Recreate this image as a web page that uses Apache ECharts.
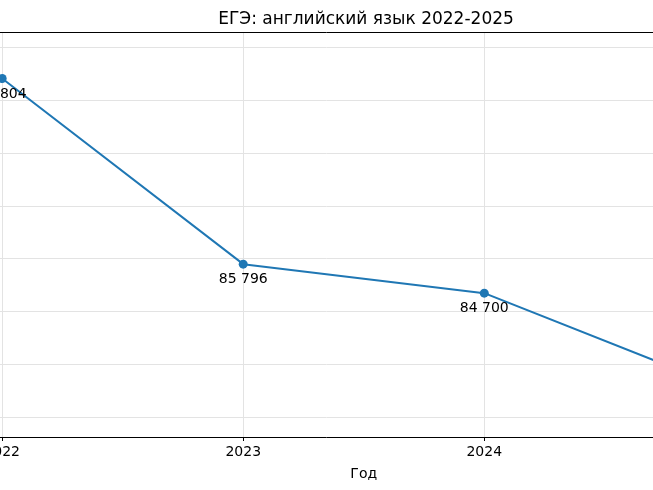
<!DOCTYPE html>
<html>
<head>
<meta charset="utf-8">
<script src="https://cdn.jsdelivr.net/npm/echarts@6/dist/echarts.min.js"></script>
<style>
  html, body { margin: 0; padding: 0; background: #fff; }
  #chart { width: 653px; height: 490px; }
</style>
</head>
<body>
<div id="chart"></div>
<script>
// данные графика
var years = [2022, 2023, 2024, 2025];
var participants = [92804, 85796, 84700, 81100];

// пределы осей (как в исходной картинке, с полями)
var x_range = [2021.85, 2025.15];
var y_range = [79270, 94560];

// формат числа с пробелом между разрядами
function fmt_num(v) {
    return String(v).replace(/\B(?=(\d{3})+(?!\d))/g, ' ');
}

var points = [];
for (var i in years) {
    points.push([years[i], participants[i]]);
}

var chart = echarts.init(document.getElementById('chart'));
var option = {
    animation: false,
    backgroundColor: '#fff',
    textStyle: { fontFamily: 'DejaVu Sans' },
    title: {
        text: 'ЕГЭ: английский язык 2022-2025',
        left: 366,
        top: 11,
        padding: 0,
        textAlign: 'center',
        textStyle: { fontSize: 17, fontWeight: 'normal', color: '#000', fontFamily: 'DejaVu Sans' }
    },
    grid: {
        left: -34,
        right: -108.5,
        top: 32,
        bottom: 53,
        outerBoundsMode: 'none',
        containLabel: false
    },
    xAxis: [
        {
            type: 'value',
            position: 'bottom',
            min: x_range[0],
            max: x_range[1],
            minInterval: 1,
            maxInterval: 1,
            name: 'Год',
            nameLocation: 'middle',
            nameGap: 30,
            nameTextStyle: { fontSize: 14, color: '#000', fontFamily: 'DejaVu Sans' },
            axisLine: { show: true, onZero: false, lineStyle: { color: '#000', width: 1 } },
            axisTick: { show: true, length: 4, lineStyle: { color: '#000' } },
            axisLabel: {
                fontSize: 14,
                color: '#000',
                margin: 8,
                showMinLabel: false,
                showMaxLabel: false,
                formatter: function (v) { return String(v); }
            },
            splitLine: { show: true, lineStyle: { color: '#e3e3e3', width: 1 } }
        },
        {
            type: 'value',
            position: 'top',
            min: x_range[0],
            max: x_range[1],
            axisLine: { show: true, onZero: false, lineStyle: { color: '#000', width: 1 } },
            axisTick: { show: false },
            axisLabel: { show: false },
            splitLine: { show: false }
        }
    ],
    yAxis: {
        type: 'value',
        min: y_range[0],
        max: y_range[1],
        minInterval: 2000,
        maxInterval: 2000,
        axisLine: { show: false },
        axisTick: { show: false },
        axisLabel: { show: false },
        splitLine: { show: true, lineStyle: { color: '#e3e3e3', width: 1 } }
    },
    series: [
        {
            type: 'line',
            data: points,
            xAxisIndex: 0,
            color: '#1f77b4',
            lineStyle: { width: 2, color: '#1f77b4' },
            symbol: 'circle',
            symbolSize: 9,
            itemStyle: { color: '#1f77b4' },
            label: {
                show: true,
                position: 'bottom',
                distance: 4,
                fontSize: 14,
                color: '#000',
                fontFamily: 'DejaVu Sans',
                formatter: function (p) { return fmt_num(p.value[1]); }
            }
        }
    ]
};
chart.setOption(option);
</script>
</body>
</html>
